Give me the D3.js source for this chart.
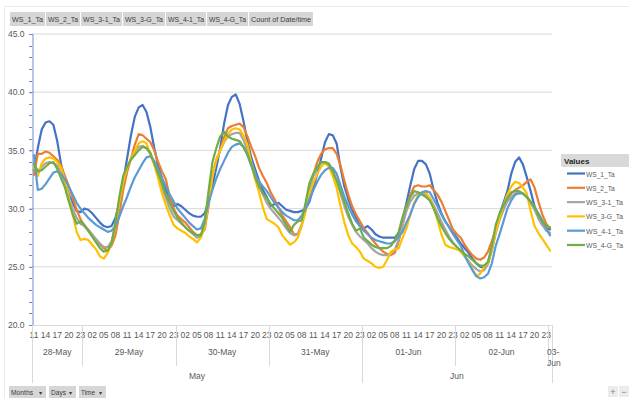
<!DOCTYPE html>
<html><head><meta charset="utf-8">
<script src="https://cdn.jsdelivr.net/npm/d3@7"></script>
<style>
body{margin:0;background:#fff}
svg{display:block}
text{font-family:"Liberation Sans",Arial,sans-serif}
</style>
</head><body>
<svg id="c" width="629" height="398"></svg>
<script>
// ---------- data ----------
const days = ["28-May","29-May","30-May","31-May","01-Jun","02-Jun","03-Jun"];
const dayMonth = ["May","May","May","May","Jun","Jun","Jun"];
const dayFirstHour = [11,0,0,0,0,0,0];
const dayLastHour = [23,23,23,23,23,23,0];
const months = ["May","Jun"];
const seriesNames = ["WS_1_Ta","WS_2_Ta","WS_3-1_Ta","WS_3-G_Ta","WS_4-1_Ta","WS_4-G_Ta"];
const pivotButtons = ["WS_1_Ta","WS_2_Ta","WS_3-1_Ta","WS_3-G_Ta","WS_4-1_Ta","WS_4-G_Ta","Count of Date/time"];
const axisButtons = ["Months","Days","Time"];
const yTicks = [20,25,30,35,40,45];

const WS_1_Ta = [
33.3,35.2,36.8,37.4,37.5,37.2,35.8,33.8,32.3,31.2,30.5,29.8,29.7,
30.0,29.9,29.6,29.2,28.8,28.5,28.4,28.5,29.2,30.5,32.3,34.3,36.3,37.9,38.7,38.9,38.3,37.0,35.2,33.7,32.6,31.6,30.9,30.2,
30.4,30.2,29.9,29.6,29.4,29.3,29.3,29.6,30.6,32.0,33.5,35.2,37.3,38.9,39.6,39.8,39.0,37.5,35.8,34.4,33.4,32.4,31.6,31.0,
30.2,30.4,30.5,30.2,29.9,29.8,29.7,29.7,29.8,30.0,30.6,31.8,33.0,34.3,35.7,36.4,36.3,35.6,33.5,31.9,30.8,29.9,29.2,28.5,
28.3,28.5,28.2,27.8,27.6,27.5,27.5,27.5,27.5,27.9,29.0,30.5,32.0,33.4,34.1,34.1,33.8,33.0,31.6,30.5,29.6,28.9,28.4,27.9,
27.5,27.0,26.6,26.2,25.7,25.3,25.0,25.0,25.4,26.5,28.0,29.5,30.5,31.5,33.0,34.0,34.4,33.8,32.7,31.5,30.2,29.2,28.6,28.3,
28.2];
const WS_2_Ta = [
32.9,34.7,34.7,34.9,34.8,34.5,34.2,33.7,32.8,31.9,30.9,29.9,29.1,
28.5,28.1,27.7,27.3,26.9,26.6,26.4,26.8,27.7,29.5,31.6,33.1,34.3,35.5,36.4,36.3,36.0,35.7,35.0,34.0,33.2,32.5,31.0,30.0,
29.4,29.1,28.8,28.4,28.0,27.7,27.8,28.2,30.2,32.8,34.2,35.0,36.1,36.9,37.1,37.2,37.3,37.0,36.2,35.3,34.5,33.5,32.8,32.2,
31.4,30.8,30.1,29.4,28.9,28.4,27.8,27.8,28.6,29.8,31.6,32.9,34.0,34.7,35.1,35.2,35.2,34.7,33.7,32.4,31.2,30.2,29.5,28.9,
28.3,27.9,27.4,27.0,26.6,26.3,26.1,26.0,26.2,27.2,28.6,30.0,31.2,31.9,32.0,31.9,31.9,32.0,31.6,31.2,30.6,29.8,29.0,28.2,
27.8,27.5,26.9,26.4,26.0,25.7,25.6,25.8,26.3,27.2,28.2,29.2,30.0,30.8,31.3,31.6,31.8,32.0,32.3,32.5,31.8,30.6,29.5,28.7,
28.3];
const WS_3_1_Ta = [
33.8,33.2,33.6,33.9,34.0,33.9,33.7,33.1,32.2,31.0,30.0,29.2,28.7,
28.5,28.2,27.8,27.4,27.0,26.7,26.7,27.2,28.5,30.5,32.3,33.5,34.3,34.9,35.3,35.4,35.2,34.7,33.8,32.8,31.8,30.9,30.0,29.3,
29.0,28.7,28.4,28.1,27.8,27.5,27.6,28.4,30.5,32.8,34.2,35.0,35.7,36.2,36.4,36.5,36.5,35.9,35.0,34.0,33.0,32.0,31.2,30.5,
30.0,29.6,29.2,28.8,28.3,27.9,27.7,27.8,28.6,30.3,31.7,32.8,33.5,33.9,34.0,33.9,33.3,32.4,31.3,30.2,29.3,28.6,28.0,27.6,
27.3,27.0,26.6,26.3,26.1,26.0,26.0,26.1,26.5,27.3,28.6,29.8,30.6,31.1,31.3,31.3,31.2,30.9,30.3,29.6,28.9,28.2,27.6,27.1,
26.7,26.3,25.9,25.5,25.1,24.8,24.6,24.7,25.2,26.4,27.9,29.0,29.9,30.6,31.0,31.3,31.4,31.3,31.0,30.5,29.9,29.2,28.6,28.1,
27.9];
const WS_3_G_Ta = [
33.5,32.8,33.9,34.3,34.4,34.3,34.0,33.5,32.4,30.9,29.5,28.0,27.3,
27.4,27.3,26.9,26.5,25.9,25.7,26.2,27.0,28.6,30.6,32.3,33.5,34.3,35.0,35.6,35.8,35.6,34.6,33.8,32.6,31.3,30.3,29.4,28.6,
28.3,28.1,27.9,27.6,27.4,27.1,27.5,28.4,30.5,32.8,34.2,35.0,35.8,36.4,36.8,36.9,36.8,36.3,35.5,33.9,32.5,31.4,30.1,29.1,
28.9,28.7,28.4,27.7,27.3,26.9,27.1,27.5,28.5,29.8,31.3,32.2,33.0,33.6,33.9,33.6,32.8,31.8,30.2,28.8,27.7,27.0,26.7,26.3,
25.7,25.5,25.3,25.0,24.9,25.0,25.6,26.3,26.5,26.6,27.5,28.3,29.5,30.5,31.1,31.4,31.4,30.9,30.1,29.0,27.8,26.9,26.7,26.6,
26.5,26.3,25.9,25.4,24.8,24.2,24.4,25.0,25.3,26.5,28.0,29.2,30.3,31.2,31.9,32.3,32.2,31.8,31.3,29.8,28.5,27.9,27.4,26.9,
26.4];
const WS_4_1_Ta = [
34.6,31.6,31.7,32.1,32.6,33.1,33.2,33.0,32.5,31.9,31.2,30.5,30.0,
29.6,29.2,28.9,28.6,28.4,28.2,28.0,28.1,28.5,29.3,30.2,31.0,31.9,32.7,33.3,33.9,34.4,34.5,34.1,33.4,32.6,31.9,31.2,30.6,
30.0,29.6,29.2,28.8,28.5,28.2,28.3,29.1,30.5,31.6,32.6,33.4,34.1,34.8,35.3,35.5,35.6,35.3,34.6,33.7,32.9,32.3,31.9,31.5,
31.0,30.5,30.1,29.7,29.4,29.2,29.0,29.0,29.4,30.0,30.8,31.6,32.3,32.9,33.3,33.5,33.5,33.0,32.0,31.0,30.2,29.5,28.9,28.5,
28.1,27.8,27.5,27.3,27.2,27.1,27.0,27.0,27.2,27.6,28.0,28.8,29.5,30.4,31.0,31.4,31.5,31.4,30.8,30.2,29.5,28.9,28.4,27.8,
27.3,26.8,26.0,25.3,24.7,24.2,24.0,24.1,24.4,25.3,26.8,27.8,28.9,30.0,30.7,31.2,31.3,31.3,31.0,30.6,30.1,29.6,29.0,28.3,
27.7];
const WS_4_G_Ta = [
33.9,33.2,33.3,33.6,33.9,34.0,33.4,32.6,31.8,30.6,29.5,28.7,28.9,
28.6,28.1,27.6,27.1,26.6,26.3,26.4,27.0,28.8,31.0,32.8,33.6,34.2,34.6,35.0,35.3,35.2,34.8,33.9,33.0,32.2,31.2,30.5,29.8,
29.2,28.8,28.4,28.1,27.9,27.7,27.7,28.8,31.5,34.0,35.2,36.2,36.6,36.2,36.0,35.9,35.8,35.3,34.7,33.8,32.7,31.9,31.3,30.9,
30.4,30.0,29.6,29.2,28.6,28.0,28.6,28.9,29.0,30.5,32.2,33.0,33.6,34.0,34.0,33.8,33.2,32.4,31.5,30.6,29.6,28.7,28.1,28.3,
27.5,27.2,26.9,26.7,26.6,26.6,26.6,26.8,27.3,28.0,29.3,30.3,31.0,31.5,31.4,31.2,31.0,30.7,30.0,29.2,28.5,27.9,27.4,27.0,
26.7,26.4,26.1,25.9,25.6,25.3,25.1,25.1,25.4,26.8,28.6,29.6,30.3,30.9,31.4,31.5,31.5,31.3,31.0,30.6,30.2,29.4,28.9,28.5,
28.4];
const seriesValues = [WS_1_Ta, WS_2_Ta, WS_3_1_Ta, WS_3_G_Ta, WS_4_1_Ta, WS_4_G_Ta];

// ---------- styles ----------
const colors = ["#4472C4","#ED7D31","#A5A5A5","#FFC000","#5B9BD5","#70AD47"];
const textCol = "#595959";
const gridCol = "#d9d9d9";

// ---------- categories ----------
const cats = [];
days.forEach((d, di) => {
  for (let h = dayFirstHour[di]; h <= dayLastHour[di]; h++) {
    cats.push({key: d + "|" + h, day: d, di: di, hour: h});
  }
});

const svg = d3.select("#c");
const L = 32, R = 552, T = 34, B = 325;
const x = d3.scaleBand().domain(cats.map(c => c.key)).range([L, R]).paddingInner(0).paddingOuter(0);
const y = d3.scaleLinear().domain([20, 45]).range([B, T]);
const cx = k => x(k) + x.bandwidth() / 2;

// chart border
svg.append("rect").attr("x", 4.5).attr("y", 6.5).attr("width", 640).attr("height", 400)
  .attr("fill", "none").attr("stroke", "#ececec");

// gridlines
svg.append("g").selectAll("line").data(yTicks.filter(t => t > 20)).join("line")
  .attr("x1", L).attr("x2", R).attr("y1", d => y(d)).attr("y2", d => y(d))
  .attr("stroke", gridCol).attr("stroke-width", 1);

// x base line
svg.append("line").attr("x1", L).attr("x2", R).attr("y1", B + 0.5).attr("y2", B + 0.5)
  .attr("stroke", gridCol);

// y axis
const yAxis = d3.axisLeft(y).tickValues(yTicks).tickFormat(d3.format(".1f")).tickSize(3).tickPadding(5);
const gy = svg.append("g").attr("transform", `translate(${L + 0.5},0)`).call(yAxis);
gy.select(".domain").attr("stroke", "#6d8ccb");
gy.selectAll(".tick line").attr("stroke", "#6d8ccb");
gy.selectAll("text").attr("fill", textCol).style("font-size", "8.5px").style("font-family", '"Liberation Sans",Arial,sans-serif');
// minor ticks
svg.append("g").selectAll("line").data(d3.range(20, 45.01, 1)).join("line")
  .attr("x1", L - 3).attr("x2", L).attr("y1", d => Math.round(y(d)) + 0.5).attr("y2", d => Math.round(y(d)) + 0.5)
  .attr("stroke", "#6d8ccb");

// hour labels (every 3rd category)
const hourAxis = d3.axisBottom(x)
  .tickValues(cats.filter((c, i) => i % 3 === 0).map(c => c.key))
  .tickFormat(k => String(cats.find(c => c.key === k).hour).padStart(2, "0"))
  .tickSize(0).tickPadding(7);
const gx = svg.append("g").attr("transform", `translate(0,${B})`).call(hourAxis);
gx.select(".domain").remove();
gx.selectAll("text").attr("fill", textCol).style("font-size", "8.5px").style("font-family", '"Liberation Sans",Arial,sans-serif');

// day spans
const daySpans = days.map((d, di) => {
  const cs = cats.filter(c => c.di === di);
  return {day: d, di, x0: x(cs[0].key), x1: x(cs[cs.length - 1].key) + x.bandwidth()};
});
const monthSpans = months.map(m => {
  const ds = daySpans.filter(s => dayMonth[s.di] === m);
  return {m, x0: ds[0].x0, x1: ds[ds.length - 1].x1};
});

// separators
const sep = svg.append("g").attr("stroke", gridCol).attr("stroke-width", 1);
daySpans.slice(1).forEach(s => {
  const isMonth = dayMonth[s.di] !== dayMonth[s.di - 1];
  sep.append("line").attr("x1", Math.round(s.x0) + 0.5).attr("x2", Math.round(s.x0) + 0.5)
    .attr("y1", B).attr("y2", isMonth ? 383 : 366);
});
[L, R].forEach(xx => sep.append("line").attr("x1", Math.round(xx) + 0.5).attr("x2", Math.round(xx) + 0.5)
  .attr("y1", B).attr("y2", 383));

// day labels
daySpans.forEach(s => {
  const t = svg.append("text").attr("fill", textCol).style("font-size", "8.5px").attr("text-anchor", "middle");
  if (s.x1 - s.x0 < 20) {
    const parts = s.day.split("-");
    t.attr("x", s.x0 - 1).attr("y", 355).attr("text-anchor", "start");
    t.append("tspan").attr("x", s.x0 - 1).attr("y", 355).text(parts[0] + "-");
    t.append("tspan").attr("x", s.x0 - 1).attr("y", 366).text(parts[1]);
  } else {
    t.attr("x", (s.x0 + s.x1) / 2).attr("y", 355).text(s.day);
  }
});
// month labels
monthSpans.forEach(s => {
  svg.append("text").attr("x", (s.x0 + s.x1) / 2).attr("y", 379).attr("text-anchor", "middle")
    .attr("fill", textCol).style("font-size", "8.5px").text(s.m);
});

// lines
const line = d3.line().x((d, i) => cx(cats[i].key)).y(d => y(d));
svg.append("g").selectAll("path").data(seriesValues).join("path")
  .attr("d", d => line(d)).attr("fill", "none")
  .attr("stroke", (d, i) => colors[i]).attr("stroke-width", 2.2)
  .attr("stroke-linejoin", "round").attr("stroke-linecap", "round");

// legend
const lg = svg.append("g");
lg.append("rect").attr("x", 561).attr("y", 154).attr("width", 70).attr("height", 13).attr("fill", "#d9d9d9");
lg.append("text").attr("x", 564).attr("y", 163.5).attr("fill", "#262626").style("font-size", "8px")
  .style("font-weight", "bold").text("Values");
seriesNames.forEach((n, i) => {
  const yy = 173.5 + i * 14.3;
  lg.append("line").attr("x1", 567).attr("x2", 585).attr("y1", yy).attr("y2", yy)
    .attr("stroke", colors[i]).attr("stroke-width", 2.2);
  lg.append("text").attr("x", 586).attr("y", yy + 3).attr("fill", textCol).style("font-size", "8px")
    .attr("textLength", n.length * 4.1).attr("lengthAdjust", "spacingAndGlyphs").text(n);
});

// top pivot buttons
const btnX = [10, 46, 81, 123, 166, 207, 249, 314];
pivotButtons.forEach((b, i) => {
  const x0 = btnX[i], x1 = btnX[i + 1] - 1;
  svg.append("rect").attr("x", x0).attr("y", 12).attr("width", x1 - x0).attr("height", 14).attr("fill", "#d6d6d6");
  svg.append("text").attr("x", x0 + 2).attr("y", 22).attr("fill", "#3a3a3a").style("font-size", "8px")
    .attr("textLength", x1 - x0 - 4).attr("lengthAdjust", "spacingAndGlyphs").text(b);
});

// bottom axis field buttons
const abX = [[9, 46, 22], [49, 76, 15], [79, 106, 14]];
axisButtons.forEach((b, i) => {
  const [x0, x1, tl] = abX[i];
  svg.append("rect").attr("x", x0).attr("y", 386).attr("width", x1 - x0).attr("height", 12).attr("fill", "#d6d6d6");
  svg.append("text").attr("x", x0 + 2).attr("y", 395).attr("fill", "#3a3a3a").style("font-size", "8px")
    .attr("textLength", tl).attr("lengthAdjust", "spacingAndGlyphs").text(b);
  svg.append("text").attr("x", x1 - 7).attr("y", 394.5).attr("fill", "#3a3a3a").style("font-size", "6px").text("▾");
});

// +/- buttons
[["+", 608], ["−", 619]].forEach(([s, xx]) => {
  svg.append("rect").attr("x", xx).attr("y", 386).attr("width", 10).attr("height", 11).attr("fill", "#ececec");
  svg.append("text").attr("x", xx + 5).attr("y", 395).attr("text-anchor", "middle").attr("fill", "#7f7f7f")
    .style("font-size", "9px").text(s);
});
</script>
</body></html>
